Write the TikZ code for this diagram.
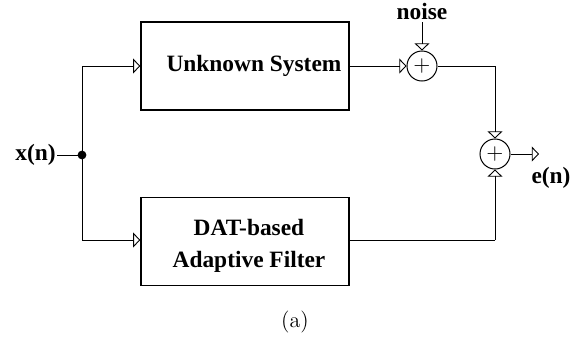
\documentclass[tikz,border=0pt]{standalone}
\usepackage{fontspec}
\newfontfamily\tms{Liberation Serif}
\usetikzlibrary{arrows.meta}
\begin{document}
\begin{tikzpicture}[x=0.5pt,y=-0.5pt,
  wire/.style={line width=0.5pt},
  arr/.style={wire,-{Triangle[open,length=3.6pt,width=7.5pt,line width=0.45pt]}},
  blk/.style={draw,line width=0.7pt,minimum width=104pt,minimum height=44pt,inner sep=0pt},
  lbl/.style={font=\tms\bfseries\fontsize{11.7}{16}\selectfont,inner sep=0.5pt},
  sumn/.style={draw,circle,line width=0.5pt,minimum size=15pt,inner sep=0pt,font=\fontsize{11}{11}\selectfont}]
\useasboundingbox (0,0) rectangle (585,339);
% blocks
\node[blk] (ub) at (245,66) {};
\node[lbl] (ubt) at (254,66) {Unknown System};
\node[blk] (lb) at (245,241.5) {};
\node[lbl,align=center] (lbt) at (249,246) {DAT-based\\Adaptive Filter};
% summers
\node[sumn] (s1) at (422,66) {$+$};
\node[sumn] (s2) at (495,154) {$+$};
% labels
\node[lbl,anchor=east] (xn) at (57,155) {x(n)};
\node[lbl] (noise) at (422,11) {noise};
\node[lbl] (en) at (551,178) {e(n)};
\node[font=\fontsize{11}{13}\selectfont] (cap) at (295,322) {(a)};
% coordinates
\coordinate (j) at (82,155);
\coordinate (jt) at (82,66);
\coordinate (jb) at (82,240);
\coordinate (c1) at (495,66);
\coordinate (c2) at (495,240);
\coordinate (out) at (539,154);
\coordinate (nz) at (422,22);
% wires
\draw[wire] (xn.east) -- (j);
\fill (j) circle (2.2pt);
\draw[wire] (jt) -- (jb);
\draw[arr] (jt) -- (ub.west);
\draw[arr] (jb) -- (lb.west |- jb);
\draw[arr] (ub.east) -- (s1);
\draw[arr] (nz) -- (s1);
\draw[wire] (s1) -- (c1);
\draw[arr] (c1) -- (s2);
\draw[wire] (lb.east |- c2) -- (c2);
\draw[arr] (c2) -- (s2);
\draw[arr] (s2) -- (out);
\end{tikzpicture}
\end{document}
